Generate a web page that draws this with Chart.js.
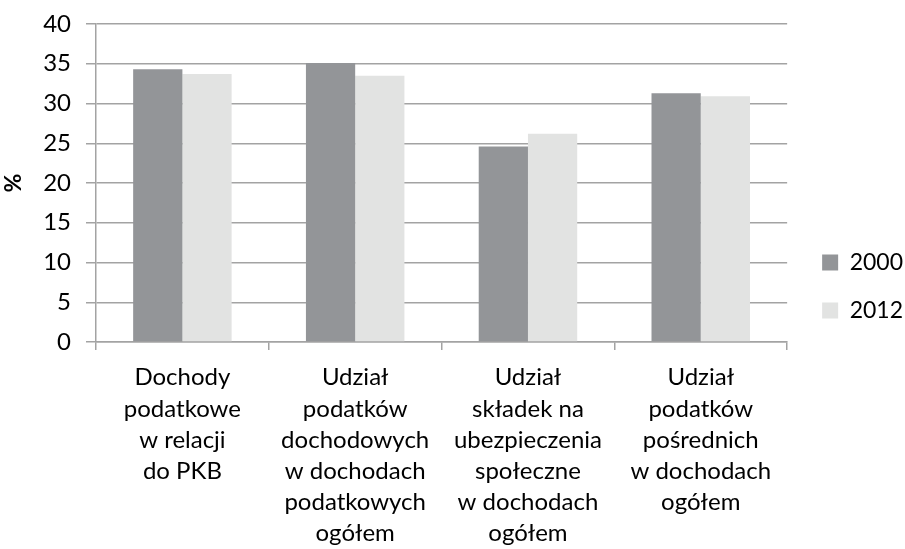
<!DOCTYPE html>
<html lang="pl">
<head>
    <meta charset="UTF-8">
    <title>Dochody podatkowe</title>
    <script src="https://cdn.jsdelivr.net/npm/chart.js"></script>
    <style>
        html, body {
            margin: 0;
            padding: 0;
            background: #ffffff;
        }
        .chart-box {
            width: 905px;
            height: 549px;
        }
    </style>
</head>
<body>
    <div class="chart-box">
        <canvas id="taxChart"></canvas>
    </div>

    <script>
        // Data
        const categories = [
            ['Dochody', 'podatkowe', 'w relacji', 'do PKB'],
            ['Udział', 'podatków', 'dochodowych', 'w dochodach', 'podatkowych', 'ogółem'],
            ['Udział', 'składek na', 'ubezpieczenia', 'społeczne', 'w dochodach', 'ogółem'],
            ['Udział', 'podatków', 'pośrednich', 'w dochodach', 'ogółem']
        ];
        const values2000 = [34.3, 35.1, 24.6, 31.3];
        const values2012 = [33.7, 33.5, 26.2, 30.9];
        const yTicks = [0, 5, 10, 15, 20, 25, 30, 35, 40];

        const FONT = 'Lato, Carlito, Calibri, sans-serif';
        const GRID = '#a3a3a3';

        // nudge the legend a bit closer to the right edge, like the original
        const legendShift = {
            id: 'legendShift',
            afterLayout(chart) {
                if (chart.legend) {
                    chart.legend.left += 10;
                    chart.legend.right += 10;
                }
            }
        };

        function initChart() {
            const ctx = document.getElementById('taxChart').getContext('2d');
            new Chart(ctx, {
                type: 'bar',
                data: {
                    labels: categories,
                    datasets: [{
                        label: '2000',
                        data: values2000,
                        backgroundColor: '#939598'
                    }, {
                        label: '2012',
                        data: values2012,
                        backgroundColor: '#e2e3e2'
                    }]
                },
                options: {
                    responsive: true,
                    maintainAspectRatio: false,
                    animation: false,
                    layout: {
                        padding: { left: 0, top: 24, right: 2, bottom: 0 }
                    },
                    datasets: {
                        bar: {
                            barPercentage: 1,
                            categoryPercentage: 0.57
                        }
                    },
                    plugins: {
                        tooltip: { enabled: false },
                        legend: {
                            position: 'right',
                            labels: {
                                color: '#000',
                                boxWidth: 16,
                                boxHeight: 16,
                                padding: 25,
                                font: { family: FONT, size: 23 }
                            }
                        }
                    },
                    scales: {
                        x: {
                            afterFit: axis => { axis.height = 207; },
                            grid: {
                                offset: true,
                                drawOnChartArea: false,
                                drawTicks: true,
                                tickLength: 8,
                                color: GRID,
                                lineWidth: 1.5
                            },
                            border: { color: GRID, width: 1.5 },
                            ticks: {
                                color: '#000',
                                maxRotation: 0,
                                autoSkip: false,
                                padding: 12,
                                font: { family: FONT, size: 24, lineHeight: 1.3 }
                            }
                        },
                        y: {
                            min: 0,
                            max: 40,
                            afterFit: axis => {
                                axis.width = 96;
                                axis.paddingTop = 0;
                                axis.paddingBottom = 0;
                            },
                            afterBuildTicks: axis => {
                                axis.ticks = yTicks.map(v => ({ value: v }));
                            },
                            grid: {
                                color: GRID,
                                lineWidth: 1.5,
                                drawTicks: true,
                                tickLength: 10
                            },
                            border: { color: GRID, width: 1.5 },
                            ticks: {
                                color: '#000',
                                padding: 15,
                                font: { family: FONT, size: 24 }
                            },
                            title: {
                                display: true,
                                text: '%',
                                color: '#000',
                                padding: { top: 0, bottom: 3 },
                                font: { family: FONT, size: 23, weight: 'bold' }
                            }
                        }
                    }
                },
                plugins: [legendShift]
            });
        }

        document.addEventListener('DOMContentLoaded', initChart);
    </script>
</body>
</html>
